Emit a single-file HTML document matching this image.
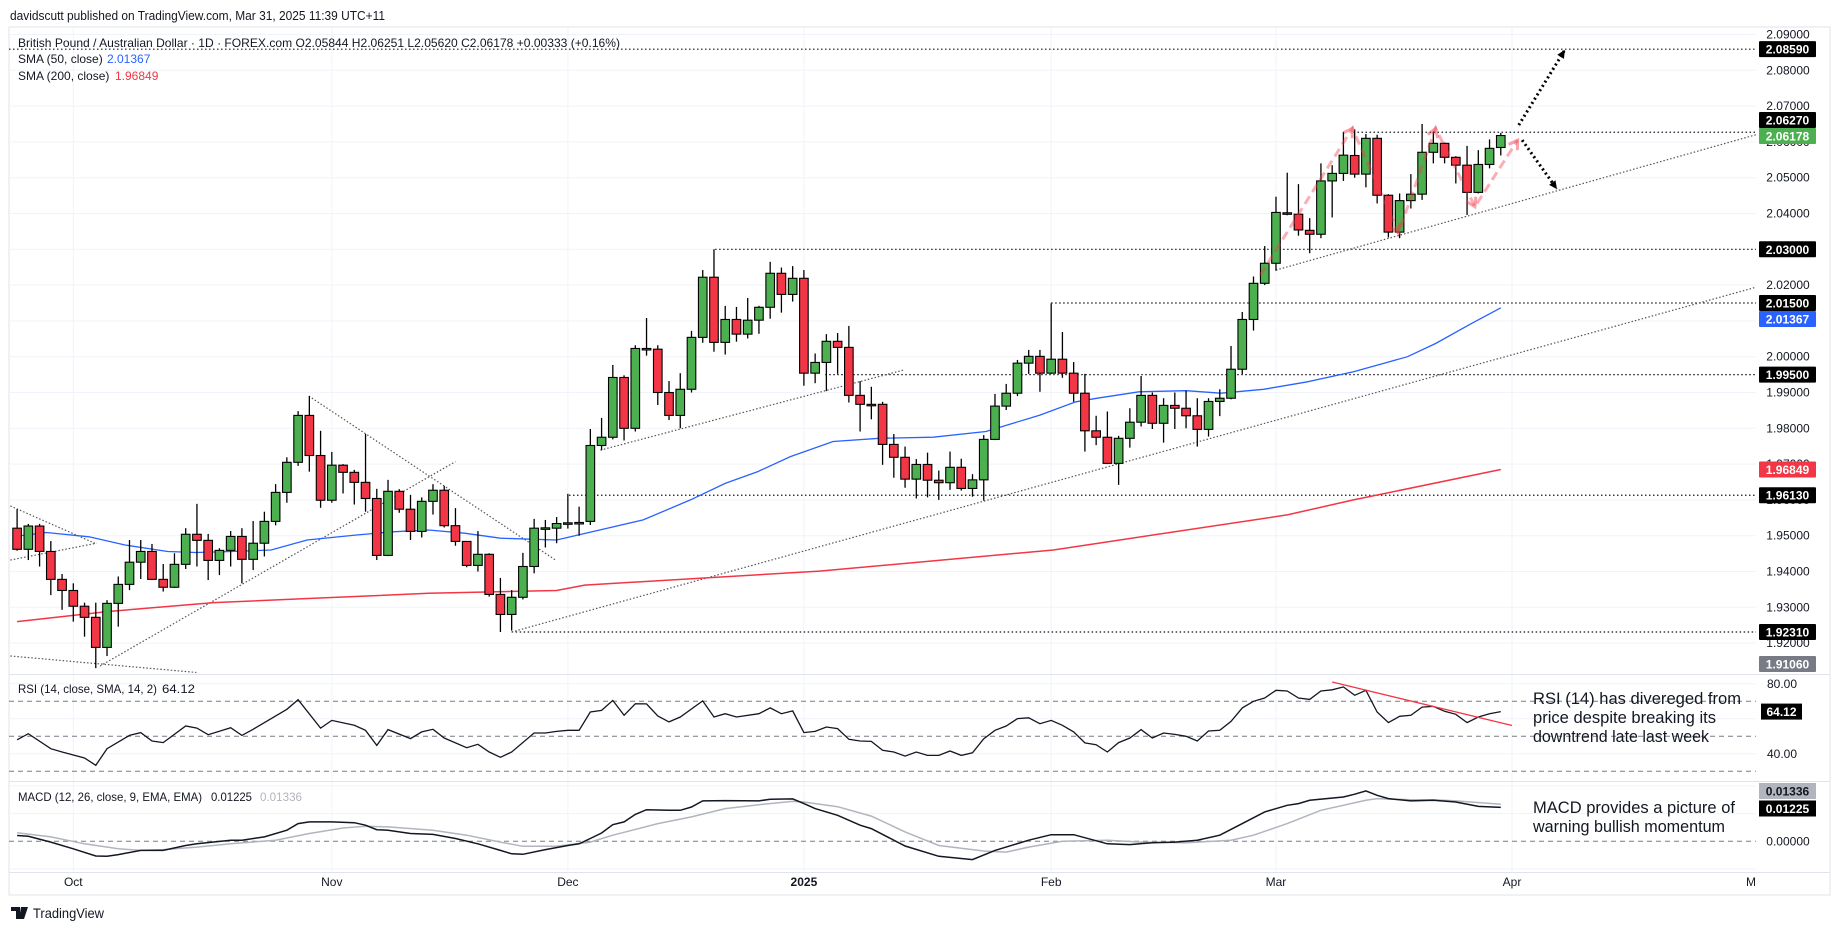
<!DOCTYPE html>
<html><head><meta charset="utf-8"><style>
html,body{margin:0;padding:0;background:#fff;}
svg{display:block;font-family:"Liberation Sans",sans-serif;}
</style></head><body>
<svg id="chart" width="1835" height="931" viewBox="0 0 1835 931" xmlns="http://www.w3.org/2000/svg"></svg>
<script>
// ---- Candle data (GBP/AUD daily, Sep 24 2024 .. Mar 31 2025) ----
const opens=[1.9521,1.9462,1.9527,1.9456,1.9378,1.9347,1.9303,1.9272,1.9188,1.9311,1.9364,1.9426,1.9456,1.9378,1.9356,1.9420,1.9504,1.9487,1.9431,1.9459,1.9498,1.9434,1.9479,1.9540,1.9621,1.9705,1.9836,1.9724,1.9599,1.9697,1.9677,1.9649,1.9604,1.9445,1.9624,1.9574,1.9512,1.9596,1.9627,1.9528,1.9484,1.9417,1.9448,1.9336,1.9280,1.9328,1.9414,1.9520,1.9521,1.9534,1.9536,1.9540,1.9752,1.9775,1.9942,1.9800,2.0023,2.0021,1.9900,1.9836,1.9909,2.0054,2.0222,2.0040,2.0104,2.0063,2.0102,2.0138,2.0233,2.0174,2.0219,1.9954,1.9984,2.0043,2.0026,1.9892,1.9867,1.9867,1.9755,1.9719,1.9658,1.9699,1.9655,1.9648,1.9691,1.9632,1.9656,1.9769,1.9862,1.9898,1.9982,2.0001,1.9954,1.9993,1.9954,1.9898,1.9793,1.9775,1.9702,1.9772,1.9817,1.9892,1.9814,1.9864,1.9856,1.9835,1.9797,1.9875,1.9884,1.9965,2.0104,2.0205,2.0261,2.0402,2.0398,2.0353,2.0342,2.0491,2.0512,2.0562,2.0510,2.0610,2.0451,2.0348,2.0436,2.0454,2.0571,2.0596,2.0557,2.0535,2.0459,2.0537,2.05844];
const highs=[1.9574,1.9533,1.9533,1.9485,1.9393,1.9367,1.9313,1.9313,1.9320,1.9386,1.9488,1.9488,1.9477,1.9421,1.9451,1.9521,1.9589,1.9505,1.9465,1.9513,1.9521,1.9541,1.9567,1.9644,1.9719,1.9848,1.9890,1.9793,1.9734,1.9700,1.9684,1.9784,1.9631,1.9656,1.9630,1.9614,1.9607,1.9644,1.9639,1.9577,1.9485,1.9513,1.9451,1.9382,1.9348,1.9452,1.9547,1.9544,1.9552,1.9617,1.9581,1.9798,1.9829,1.9977,1.9948,2.0032,2.0108,2.0032,1.9932,1.9954,2.0072,2.0242,2.0300,2.0142,2.0139,2.0164,2.0142,2.0265,2.0249,2.0253,2.0242,2.0009,2.0063,2.0066,2.0086,1.9932,1.9916,1.9874,1.9784,1.9749,1.9714,1.9732,1.9682,1.9735,1.9715,1.9672,1.9781,1.9896,1.9924,1.9991,2.0019,2.0019,2.0149,2.0069,1.9985,1.9952,1.9835,1.9847,1.9779,1.9856,1.9946,1.9900,1.9884,1.9900,1.9905,1.9884,1.9884,1.9909,2.0030,2.0125,2.0224,2.0309,2.0447,2.0514,2.0482,2.0387,2.0540,2.0535,2.0628,2.0635,2.0622,2.0620,2.0454,2.0456,2.0510,2.0650,2.0629,2.0598,2.0560,2.0589,2.0577,2.0607,2.06251];
const lows=[1.9458,1.9432,1.9414,1.9334,1.9293,1.9260,1.9218,1.9130,1.9164,1.9246,1.9348,1.9379,1.9376,1.9344,1.9354,1.9407,1.9414,1.9376,1.9390,1.9414,1.9367,1.9404,1.9442,1.9529,1.9592,1.9695,1.9679,1.9578,1.9592,1.9618,1.9587,1.9567,1.9432,1.9443,1.9564,1.9488,1.9495,1.9559,1.9523,1.9472,1.9412,1.9400,1.9330,1.9231,1.9235,1.9322,1.9395,1.9467,1.9479,1.9520,1.9500,1.9530,1.9739,1.9769,1.9766,1.9791,2.0003,1.9865,1.9823,1.9800,1.9900,2.0039,2.0014,2.0006,2.0042,2.0051,2.0064,2.0106,2.0123,2.0154,1.9919,1.9926,1.9904,1.9952,1.9872,1.9791,1.9825,1.9698,1.9662,1.9634,1.9604,1.9607,1.9600,1.9628,1.9626,1.9609,1.9598,1.9767,1.9851,1.9890,1.9952,1.9902,1.9952,1.9941,1.9874,1.9735,1.9753,1.9700,1.9642,1.9746,1.9805,1.9798,1.9760,1.9798,1.9800,1.9749,1.9777,1.9834,1.9881,1.9951,2.0073,2.0200,2.0240,2.0395,2.0338,2.0289,2.0331,2.0389,2.0491,2.0500,2.0473,2.0428,2.0333,2.0331,2.0414,2.0438,2.0540,2.0540,2.0484,2.0396,2.0456,2.0526,2.05620];
const closes=[1.9462,1.9527,1.9456,1.9378,1.9347,1.9303,1.9272,1.9188,1.9311,1.9364,1.9426,1.9456,1.9378,1.9356,1.9420,1.9504,1.9487,1.9431,1.9459,1.9498,1.9434,1.9479,1.9540,1.9621,1.9705,1.9836,1.9724,1.9599,1.9697,1.9677,1.9649,1.9604,1.9445,1.9624,1.9574,1.9512,1.9596,1.9627,1.9528,1.9484,1.9417,1.9448,1.9336,1.9280,1.9328,1.9414,1.9521,1.9522,1.9534,1.9536,1.9537,1.9752,1.9775,1.9942,1.9800,2.0023,2.0022,1.9900,1.9836,1.9909,2.0054,2.0222,2.0040,2.0104,2.0063,2.0102,2.0138,2.0233,2.0174,2.0219,1.9954,1.9984,2.0043,2.0026,1.9892,1.9867,1.9866,1.9755,1.9719,1.9658,1.9699,1.9655,1.9648,1.9691,1.9632,1.9656,1.9769,1.9862,1.9898,1.9982,2.0001,1.9954,1.9993,1.9954,1.9898,1.9793,1.9775,1.9702,1.9772,1.9817,1.9892,1.9814,1.9864,1.9856,1.9835,1.9797,1.9875,1.9884,1.9965,2.0104,2.0205,2.0261,2.0403,2.0398,2.0354,2.0342,2.0491,2.0512,2.0563,2.0510,2.0610,2.0451,2.0348,2.0436,2.0454,2.0571,2.0596,2.0557,2.0535,2.0459,2.0537,2.0582,2.06178];
// SMA (bar index, value)
const sma50Idx=[0,2.6,6.4,9.6,13.4,15.9,19.1,22.6,25.8,30.2,33.4,36.6,39.8,43,48,55.7,59.9,63,65.9,68.8,72.6,76.7,81.5,86.2,91,94.2,96.1,99.8,104,107.1,110.9,114.8,118.9,122.1,123.7,126.2,129.4,132];
const sma50Val=[1.9499,1.9509,1.9497,1.9474,1.9456,1.9453,1.9456,1.9460,1.9488,1.9502,1.9511,1.9516,1.9507,1.9493,1.9488,1.9544,1.9600,1.9646,1.9679,1.9721,1.9763,1.9772,1.9775,1.9791,1.9837,1.9874,1.9884,1.9902,1.9905,1.9898,1.9909,1.9930,1.9958,1.9986,2.0000,2.0037,2.0093,2.01367];
const sma200Idx=[0,8,17.5,26.4,36.6,48,50.5,71.4,92.2,113,118.9,132];
const sma200Val=[1.9260,1.9288,1.9313,1.9325,1.9339,1.9347,1.9362,1.9401,1.9460,1.9558,1.9600,1.96849];
// RSI (bar index, value)
const rsiIdx=[0,1,3,4,6,7,8,10,11,12,13,15,16,17,19,20,21,24,25,27,28,30,31,32,33,35,36,37,38,40,41,42,43,44,46,47,48,49,50,51,52,53,54,55,56,57,58,59,61,62,63,64,66,67,68,69,70,71,72,73,74,75,76,77,78,79,80,81,82,83,84,85,86,87,88,89,90,91,92,93,94,95,96,97,98,99,100,101,102,103,104,105,106,107,108,109,110,111,112,113,114,115,116,117,118,119,120,121,122,123,124,125,126,127,128,129,130,131,132];
const rsiVal=[48,51.5,42.9,41,37.6,33.4,42.9,50.5,52.1,47.3,46.4,55.9,54.7,50.9,54.9,50.5,54,65.4,70.9,54.7,59.1,56.3,53.4,44.8,53.8,48.7,52.5,54,49,43.5,45.4,41,38,41,51.9,51.9,52.8,53.4,53.4,63.9,64.8,70.5,62,68.6,68.5,61.6,58.2,61,70.2,61,62.9,61,62.9,66.2,62.9,64.5,52.1,52.8,55.3,54.4,48.3,47.3,47.1,42,41,38.7,41,39.1,39.1,41.6,39.1,40.6,48.6,53.4,55.9,60.1,60.6,57.2,59.1,56.3,52.5,46.2,45.2,41,46.4,49,53.8,49,51.9,51.1,50,47.3,53,53.4,58.5,66.2,70,71.9,76.3,75.9,71.9,71.1,75.9,76.6,78.2,73.4,76.3,63.9,57.8,61.4,62,66.7,67.1,64.3,62.6,57.8,61,62.9,64.12];
// MACD line and signal (bar index, value)
const macdIdx=[0,1,3,5,7,8,9,11,13,15,16,19,20,22,24,25,26,28,30,31,32,33,35,37,39,41,43,44,45,47,49,50,51,52,53,54,55,56,58,59,60,61,63,66,67,69,70,71,73,75,76,79,82,85,87,90,92,94,97,99,101,103,105,107,109,111,113,114,115,118,119,120,121,122,124,126,128,130,132];
const macdVal=[0.0021,0.0018,-0.0003,-0.0027,-0.0053,-0.0054,-0.0048,-0.0033,-0.0033,-0.0015,-0.0009,0.0004,0.0004,0.0016,0.0040,0.0064,0.0070,0.0070,0.0067,0.0058,0.0042,0.0040,0.0028,0.0025,0.0010,-0.0009,-0.0033,-0.0045,-0.0047,-0.0030,-0.0015,-0.0009,0.0010,0.0030,0.0060,0.0070,0.0097,0.0114,0.0112,0.0112,0.0124,0.0146,0.0147,0.0146,0.0152,0.0153,0.0136,0.0118,0.0094,0.0058,0.0046,-0.0017,-0.0054,-0.0066,-0.0033,0.0004,0.0024,0.0024,-0.0009,-0.0012,-0.0005,-0.0003,0.0004,0.0022,0.0064,0.0106,0.0130,0.0136,0.0148,0.0160,0.0170,0.0182,0.0166,0.0154,0.0146,0.0148,0.0142,0.0126,0.01225];
const sigIdx=[0,3,6,9,11,13,16,19,23,26,29,31,33,37,40,43,45,48,51,53,57,60,63,66,69,70,73,76,79,82,86,88,90,93,97,100,104,108,110,113,116,120,121,124,126,128,132];
const sigVal=[0.0031,0.0016,-0.0009,-0.0027,-0.0033,-0.0030,-0.0021,-0.0009,0.0004,0.0028,0.0048,0.0054,0.0052,0.0040,0.0022,-0.0003,-0.0018,-0.0018,-0.0003,0.0022,0.0064,0.0088,0.0118,0.0132,0.0144,0.0142,0.0125,0.0091,0.0034,-0.0015,-0.0035,-0.0039,-0.0021,0.0000,0.0004,-0.0003,-0.0005,0.0004,0.0022,0.0064,0.0112,0.0148,0.0154,0.0150,0.0150,0.0146,0.01336];
// axis tick data
const priceTicks=[2.09,2.08,2.07,2.06,2.05,2.04,2.03,2.02,2.01,2.00,1.99,1.98,1.97,1.96,1.95,1.94,1.93,1.92];
const hLevels=[2.0859,2.0627,2.03,2.015,1.995,1.9613,1.9231];
const hLevelStart=[-1,118.9,62.1,92,71.9,49.1,44];
const monthLabels=["Oct","Nov","Dec","2025","Feb","Mar","Apr","M"];
const monthIdx=[5,28,49,70,92,112,133,155];
const rsiTicks=[80,60,40];

// ---- axes ----
const PL=9, PR=1756;
const X=i=>17.1+i*11.24;
const YP=p=>249.3+(2.03-p)*3580;
const YR=v=>736.3+(50-v)*1.75;
const YM=v=>841.3-v*2770;
const NS="http://www.w3.org/2000/svg";
const svg=document.getElementById('chart');
function mk(tag,attrs,parent){const e=document.createElementNS(NS,tag);for(const k in attrs)e.setAttribute(k,attrs[k]);(parent||svg).appendChild(e);return e;}
function txt(s,attrs,parent){const e=mk('text',attrs,parent);e.textContent=s;return e;}

const defs=mk('defs',{});
const cp=mk('clipPath',{id:'cp'},defs);mk('rect',{x:PL,y:28,width:PR-PL,height:646},cp);
const cr=mk('clipPath',{id:'cr'},defs);mk('rect',{x:PL,y:675,width:PR-PL,height:105},cr);
const cm=mk('clipPath',{id:'cm'},defs);mk('rect',{x:PL,y:782,width:PR-PL,height:90},cm);

let t=txt('davidscutt published on TradingView.com, Mar 31, 2025 11:39 UTC+11',{x:10,y:20,'font-size':13,fill:'#131722',textLength:375,lengthAdjust:'spacingAndGlyphs'});


let fr=mk('rect',{x:9,y:27,width:1821,height:868,fill:'none',stroke:'#e0e3eb','stroke-width':1});


const grid=mk('g',{stroke:'#f0f3fa','stroke-width':1});

priceTicks.forEach(p=>{const y=YP(p);if(y>28&&y<674)mk('line',{x1:PL,x2:PR,y1:y,y2:y},grid);});
rsiTicks.forEach(v=>mk('line',{x1:PL,x2:PR,y1:YR(v),y2:YR(v)},grid));
[0.02,0.01,-0.01].forEach(v=>mk('line',{x1:PL,x2:PR,y1:YM(v),y2:YM(v)},grid));
monthIdx.forEach(i=>{const x=X(i);if(x<PR)mk('line',{x1:x,x2:x,y1:28,y2:872},grid);});

mk('line',{x1:PL,x2:1830,y1:674.5,y2:674.5,stroke:'#e0e3eb'});
mk('line',{x1:PL,x2:1830,y1:781.5,y2:781.5,stroke:'#e0e3eb'});
mk('line',{x1:PL,x2:1830,y1:872.5,y2:872.5,stroke:'#e0e3eb'});

const pg=mk('g',{'clip-path':'url(#cp)'});


hLevels.forEach((p,k)=>{const x1=hLevelStart[k]<0?PL:X(hLevelStart[k]);const l=mk('line',{x1:x1,x2:PR,y1:YP(p),y2:YP(p),stroke:'#131722','stroke-width':1.2,'stroke-dasharray':'1.5 2.5'},pg);
});

const trends=[[-0.6,1.9583,7.06,1.9477],[-0.6,1.9432,7.06,1.9479],[-0.6,1.9164,15.95,1.9118],[7.38,1.9136,39.0,1.9707],[25.96,1.9890,47.9,1.9432],[51.9,1.9739,78.9,1.9963],[44,1.9231,154.7,2.0194],[112,2.0242,154.7,2.0620]];
trends.forEach(a=>{const l=mk('line',{x1:X(a[0]),y1:YP(a[1]),x2:X(a[2]),y2:YP(a[3]),stroke:'#555','stroke-width':1.2,'stroke-dasharray':'1.5 2'},pg);
});

function poly(idx,val,Y,attrs,parent,name){const pts=idx.map((i,k)=>X(i).toFixed(1)+','+Y(val[k]).toFixed(1)).join(' ');const p=mk('polyline',Object.assign({points:pts,fill:'none'},attrs),parent);return p;}
poly(sma200Idx,sma200Val,YP,{stroke:'#f23645','stroke-width':1.5},pg,'sma200-line');
poly(sma50Idx,sma50Val,YP,{stroke:'#2962ff','stroke-width':1.3},pg,'sma50-line');

const cg=mk('g',{},pg);
opens.forEach((o,i)=>{const c=closes[i],x=X(i);const up=c>=o;
 const w=mk('line',{x1:x,x2:x,y1:YP(highs[i]),y2:YP(lows[i]),stroke:'#000','stroke-width':1.3},cg);
 
 const top=YP(Math.max(o,c)),bot=YP(Math.min(o,c));
 const r=mk('rect',{x:x-4.3,y:top,width:8.6,height:Math.max(1.5,bot-top),fill:up?'#4caf50':'#f23645',stroke:'#000','stroke-width':1.1},cg);
 });

const zz=[[110.6,2.0228],[118.8,2.0638],[122.9,2.0346],[126.2,2.0638],[129.7,2.0419],[133.5,2.0605]];
const zp=mk('polyline',{points:zz.map(a=>X(a[0])+','+YP(a[1])).join(' '),fill:'none',stroke:'rgba(242,54,69,0.4)','stroke-width':3,'stroke-dasharray':'9 5'},pg);

function head(a,b,col,w){const x1=X(a[0]),y1=YP(a[1]),x2=X(b[0]),y2=YP(b[1]);const ang=Math.atan2(y2-y1,x2-x1);const L=10;
 const p1=[x2-L*Math.cos(ang-0.55),y2-L*Math.sin(ang-0.55)],p2=[x2-L*Math.cos(ang+0.55),y2-L*Math.sin(ang+0.55)];
 const h=mk('polyline',{points:p1.join(',')+' '+x2+','+y2+' '+p2.join(','),fill:'none',stroke:col,'stroke-width':w},pg);}
for(let k=1;k<zz.length;k++)head(zz[k-1],zz[k],'rgba(242,54,69,0.45)',3);
const arrows=[[[133.6,2.0647],[137.7,2.0857]],[[133.9,2.0605],[137.0,2.0468]]];
arrows.forEach(a=>{const l=mk('line',{x1:X(a[0][0]),y1:YP(a[0][1]),x2:X(a[1][0]),y2:YP(a[1][1]),stroke:'#000','stroke-width':3,'stroke-dasharray':'2 3'},pg);

const x1=X(a[0][0]),y1=YP(a[0][1]),x2=X(a[1][0]),y2=YP(a[1][1]);const ang=Math.atan2(y2-y1,x2-x1);
const tri=mk('polygon',{points:x2+','+y2+' '+(x2-9*Math.cos(ang-0.45))+','+(y2-9*Math.sin(ang-0.45))+' '+(x2-9*Math.cos(ang+0.45))+','+(y2-9*Math.sin(ang+0.45)),fill:'#000'},pg);
});

const lg=mk('g',{'font-size':12,fill:'#131722'});
t=txt('British Pound / Australian Dollar · 1D · FOREX.com  O2.05844  H2.06251  L2.05620  C2.06178  +0.00333 (+0.16%)',{x:18,y:47,textLength:602,lengthAdjust:'spacingAndGlyphs'},lg);
t=txt('SMA (50, close)',{x:18,y:63},lg);
t=txt('2.01367',{x:107,y:63,fill:'#2962ff'},lg);
t=txt('SMA (200, close)',{x:18,y:80},lg);
t=txt('1.96849',{x:115,y:80,fill:'#f23645'},lg);

const ax=mk('g',{'font-size':12,fill:'#131722','text-anchor':'middle'});
priceTicks.forEach(p=>{const t=txt(p.toFixed(5),{x:1788,y:YP(p)+4},ax);});
const boxes=[['2.08590',YP(2.0859),'#000','#fff'],['2.06270',120,'#000','#fff'],['2.06178',136,'#4caf50','#fff'],['2.03000',YP(2.03),'#000','#fff'],['2.01500',YP(2.015),'#000','#fff'],['2.01367',319,'#2962ff','#fff'],['1.99500',YP(1.995),'#000','#fff'],['1.96849',YP(1.96849),'#f23645','#fff'],['1.96130',YP(1.9613),'#000','#fff'],['1.92310',YP(1.9231),'#000','#fff'],['1.91060',664,'#787b86','#fff']];
boxes.forEach(b=>{const g=mk('g',{},ax);
 mk('rect',{x:1759,y:b[1]-8,width:57,height:16,rx:1,fill:b[2]},g);txt(b[0],{x:1787.5,y:b[1]+4.5,fill:b[3],'font-weight':'bold'},g);});

const rg=mk('g',{});
[70,50,30].forEach(v=>mk('line',{x1:PL,x2:PR,y1:YR(v),y2:YR(v),stroke:'#787b86','stroke-width':1,'stroke-dasharray':'5 4'},rg));
const rgc=mk('g',{'clip-path':'url(#cr)'},rg);
poly(rsiIdx,rsiVal,YR,{stroke:'#131722','stroke-width':1.3},rgc,'rsi-line');
let rt=mk('line',{x1:X(117),y1:YR(81),x2:X(133),y2:YR(56.2),stroke:'#f23645','stroke-width':1.3},rgc);
t=txt('RSI (14, close, SMA, 14, 2)',{x:18,y:693,'font-size':12,fill:'#131722',textLength:139,lengthAdjust:'spacingAndGlyphs'},rg);
t=txt('64.12',{x:162,y:693,'font-size':12,fill:'#131722',textLength:33,lengthAdjust:'spacingAndGlyphs'},rg);
rsiTicks.filter(v=>v!==60).forEach(v=>{const t=txt(v.toFixed(2),{x:1782,y:YR(v)+4,'font-size':12,fill:'#131722','text-anchor':'middle'},rg);});
mk('rect',{x:1761,y:YR(64.12)-8,width:41,height:16,fill:'#000'},rg);
t=txt('64.12',{x:1781.5,y:YR(64.12)+4.5,'font-size':12,'font-weight':'bold',fill:'#fff','text-anchor':'middle'},rg);
const an1=['RSI (14) has divereged from','price despite breaking its','downtrend late last week'],an1w=[208,183,176];
an1.forEach((s,k)=>{const t=txt(s,{x:1533,y:704+k*19,'font-size':17,fill:'#131722',textLength:an1w[k],lengthAdjust:'spacingAndGlyphs'},rg);});

const mg=mk('g',{});
mk('line',{x1:PL,x2:PR,y1:YM(0),y2:YM(0),stroke:'#787b86','stroke-width':1,'stroke-dasharray':'5 4'},mg);
const mgc=mk('g',{'clip-path':'url(#cm)'},mg);
poly(sigIdx,sigVal,YM,{stroke:'#b2b5be','stroke-width':1.5},mgc,'macd-signal-line');
poly(macdIdx,macdVal,YM,{stroke:'#131722','stroke-width':1.5},mgc,'macd-line');
t=txt('MACD (12, 26, close, 9, EMA, EMA)',{x:18,y:801,'font-size':12,fill:'#131722',textLength:184,lengthAdjust:'spacingAndGlyphs'},mg);
t=txt('0.01225',{x:211,y:801,'font-size':12,fill:'#131722',textLength:41,lengthAdjust:'spacingAndGlyphs'},mg);
t=txt('0.01336',{x:260,y:801,'font-size':12,fill:'#b2b5be',textLength:42,lengthAdjust:'spacingAndGlyphs'},mg);
t=txt('0.00000',{x:1788,y:YM(0)+4,'font-size':12,fill:'#131722','text-anchor':'middle'},mg);
mk('rect',{x:1759,y:783,width:57,height:16,fill:'#b2b5be'},mg);
t=txt('0.01336',{x:1787.5,y:795.5,'font-size':12,'font-weight':'bold',fill:'#131722','text-anchor':'middle'},mg);
mk('rect',{x:1759,y:800.5,width:57,height:16,fill:'#000'},mg);
t=txt('0.01225',{x:1787.5,y:813,'font-size':12,'font-weight':'bold',fill:'#fff','text-anchor':'middle'},mg);
const an2=['MACD provides a picture of','warning bullish momentum'],an2w=[202,192];
an2.forEach((s,k)=>{const t=txt(s,{x:1533,y:813+k*19,'font-size':17,fill:'#131722',textLength:an2w[k],lengthAdjust:'spacingAndGlyphs'},mg);});

const tg=mk('g',{'font-size':12,fill:'#131722','text-anchor':'middle'});
monthLabels.forEach((m,k)=>{let x=X(monthIdx[k]);if(x>1752)x=1751;const t=txt(m,{x:x,y:886,'font-weight':m==='2025'?'bold':'normal'},tg);});

const lo=mk('g',{});
mk('path',{d:'M11 907 h9 v12 h-4 v-8 h-5 z M21 907 h7 l-4 12 h-5 z',fill:'#131722'},lo);
mk('circle',{cx:22.5,cy:909,r:1.8,fill:'#131722'},lo);
txt('TradingView',{x:33,y:918,'font-size':14,fill:'#131722',textLength:71,lengthAdjust:'spacingAndGlyphs'},lo);
</script>
</body></html>
